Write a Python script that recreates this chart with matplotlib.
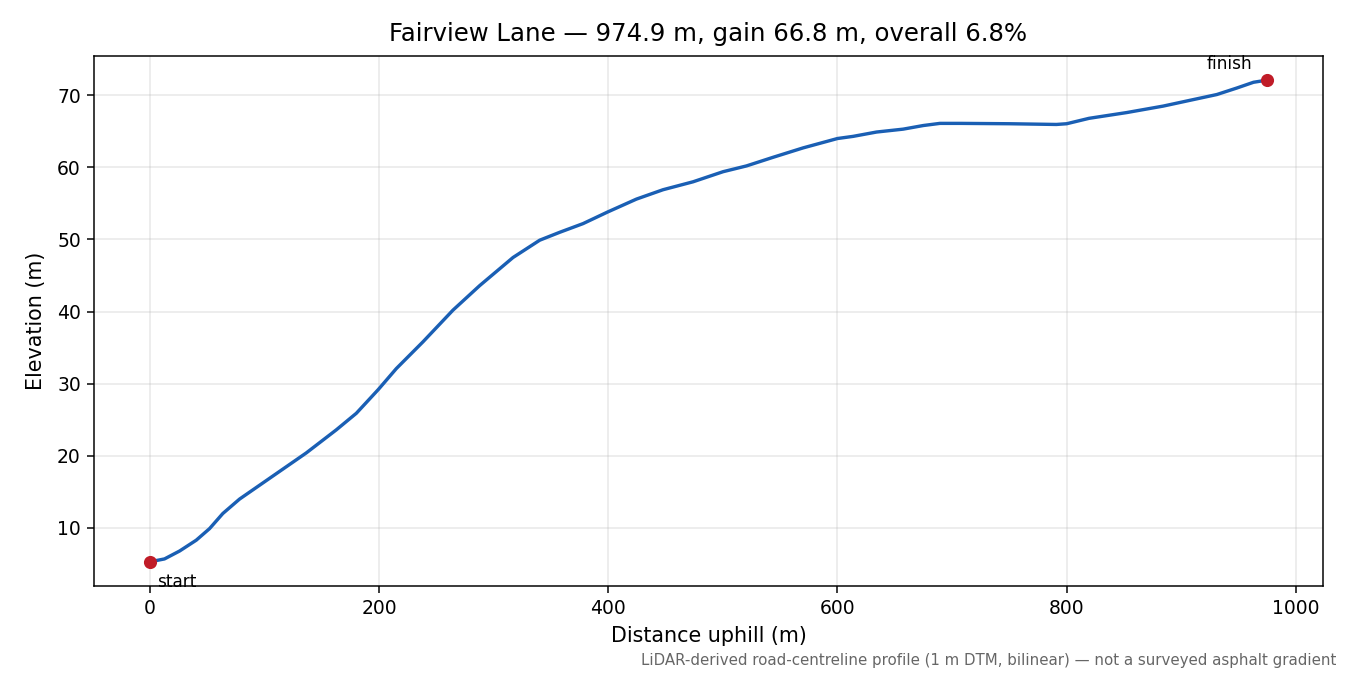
import numpy as np
import matplotlib
matplotlib.use("Agg")
import matplotlib.pyplot as plt

# profile
distance_m = [0, 12.8, 26, 40.5, 52.1, 63.7, 78.3, 107.4, 136.5, 162.7, 180.2, 199.4,
              215.1, 238.3, 264.5, 287.8, 316.9, 340.2, 357.7, 378, 399.3, 424.6, 447.8,
              474, 500.2, 520.6, 543.9, 570, 600, 613.7, 634.1, 657.3, 674.8, 689.4,
              706.8, 750, 791, 800, 819.5, 852.4, 884.3, 907.6, 931, 948.4, 963, 974.9]
elevation_m = [5.3, 5.7, 6.8, 8.3, 9.9, 12.0, 14.0, 17.2, 20.4, 23.6, 25.9, 29.2,
               32.1, 35.8, 40.2, 43.6, 47.5, 49.9, 51.0, 52.2, 53.8, 55.6, 56.9,
               58.0, 59.4, 60.2, 61.4, 62.7, 64.0, 64.3, 64.9, 65.3, 65.8, 66.1,
               66.1, 66.05, 65.95, 66.05, 66.8, 67.6, 68.5, 69.3, 70.1, 71.0, 71.8, 72.1]

road = "Fairview Lane"
length = 974.9
gain = 66.8
overall = 6.8

fig, ax = plt.subplots(figsize=(10, 5), dpi=135)
fig.subplots_adjust(left=0.0696, right=0.98, top=0.917, bottom=0.132)

ax.plot(distance_m, elevation_m, color="#1a5fb4", lw=1.8)
ax.plot([distance_m[0], distance_m[-1]], [elevation_m[0], elevation_m[-1]], "o",
        color="#c01c28", ms=6)

ax.annotate("start", (distance_m[0], elevation_m[0]), xytext=(4, -6),
            textcoords="offset points", ha="left", va="top", fontsize=9)
ax.annotate("finish", (distance_m[-1], elevation_m[-1]), xytext=(-8, 4),
            textcoords="offset points", ha="right", va="bottom", fontsize=9)

ax.set_title(f"{road} — {length} m, gain {gain} m, overall {overall}%", fontsize=13, pad=8)
ax.set_xlabel("Distance uphill (m)", fontsize=11)
ax.set_ylabel("Elevation (m)", fontsize=11, labelpad=6)
ax.grid(True, alpha=0.3)

fig.text(0.99, 0.01, "LiDAR-derived road-centreline profile (1 m DTM, bilinear) — not a surveyed asphalt gradient",
         ha="right", va="bottom", fontsize=8, color="#666666")

fig.savefig("out.png")
